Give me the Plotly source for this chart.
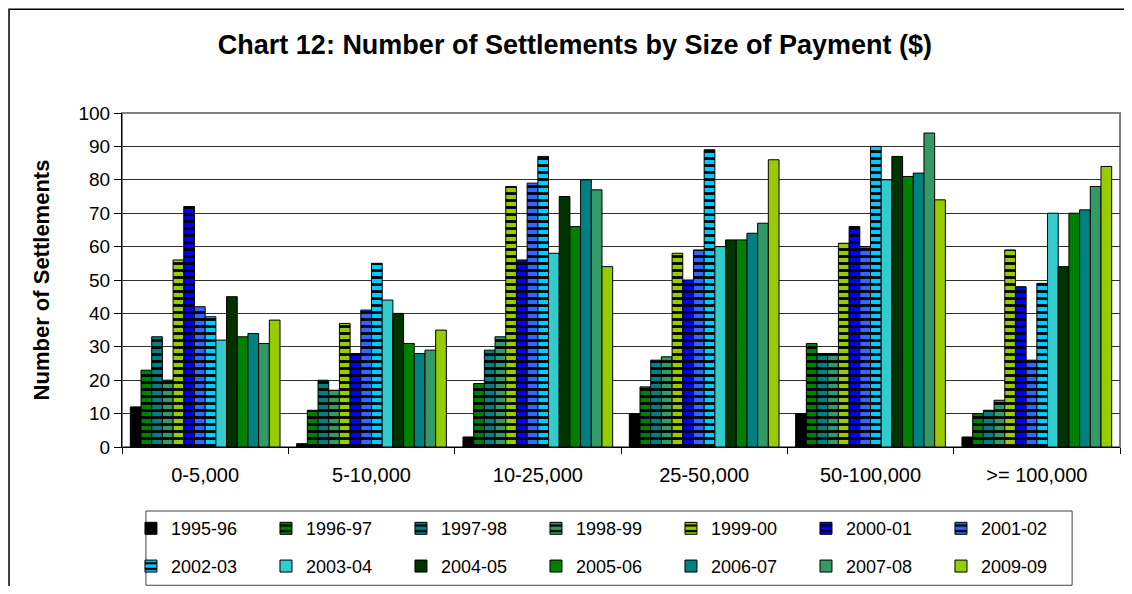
import plotly.graph_objects as go

categories = ["0-5,000", "5-10,000", "10-25,000", "25-50,000", "50-100,000", ">= 100,000"]
series_names = ["1995-96", "1996-97", "1997-98", "1998-99", "1999-00", "2000-01", "2001-02",
                "2002-03", "2003-04", "2004-05", "2005-06", "2006-07", "2007-08", "2009-09"]

v_1995_96 = [12, 1, 3, 10, 10, 3]
v_1996_97 = [23, 11, 19, 18, 31, 10]
v_1997_98 = [33, 20, 29, 26, 28, 11]
v_1998_99 = [20, 17, 33, 27, 28, 14]
v_1999_00 = [56, 37, 78, 58, 61, 59]
v_2000_01 = [72, 28, 56, 50, 66, 48]
v_2001_02 = [42, 41, 79, 59, 60, 26]
v_2002_03 = [39, 55, 87, 89, 90, 49]
v_2003_04 = [32, 44, 58, 60, 80, 70]
v_2004_05 = [45, 40, 75, 62, 87, 54]
v_2005_06 = [33, 31, 66, 62, 81, 70]
v_2006_07 = [34, 28, 80, 64, 82, 71]
v_2007_08 = [31, 29, 77, 67, 94, 78]
v_2009_09 = [38, 35, 54, 86, 74, 84]

values = [v_1995_96, v_1996_97, v_1997_98, v_1998_99, v_1999_00, v_2000_01, v_2001_02,
          v_2002_03, v_2003_04, v_2004_05, v_2005_06, v_2006_07, v_2007_08, v_2009_09]

colors = ["#000000", "#008000", "#008080", "#339966", "#99CC00", "#0000FF", "#3366FF",
          "#00CCFF", "#33CCCC", "#003300", "#008000", "#008080", "#339966", "#99CC00"]
striped = [False, True, True, True, True, True, True, True,
           False, False, False, False, False, False]

FONT = "Liberation Sans, Arial, sans-serif"

fig = go.Figure()
for i, (name, vals, col, st) in enumerate(zip(series_names, values, colors, striped)):
    marker = dict(color=col, line=dict(color="#000000", width=1))
    if st:
        marker["pattern"] = dict(shape="-", fgcolor="#000000", bgcolor=col, size=7, solidity=0.4,
                                 fillmode="replace")
    fig.add_trace(go.Bar(
        x=categories, y=vals, name=name, marker=marker,
        legend="legend" if i < 7 else "legend2",
    ))

legend_common = dict(orientation="h", xanchor="left", yanchor="top",
                     entrywidth=90, entrywidthmode="pixels",
                     font=dict(family=FONT, size=18, color="#000000"),
                     bgcolor="rgba(0,0,0,0)", borderwidth=0, itemclick=False)

fig.update_layout(
    width=1116, height=578,
    margin=dict(l=114, r=4, t=105, b=139, autoexpand=False),
    paper_bgcolor="#FFFFFF", plot_bgcolor="#FFFFFF",
    barmode="group", bargap=0.1, bargroupgap=0,
    font=dict(family=FONT, color="#000000"),
    title=dict(text="<b>Chart 12: Number of Settlements by Size of Payment ($)</b>",
               x=0.508, xref="container", xanchor="center",
               y=1 - 37 / 578, yref="container", yanchor="middle",
               font=dict(family=FONT, size=27, color="#000000")),
    legend=dict(x=0.009, y=-0.189, **legend_common),
    legend2=dict(x=0.009, y=-0.302, **legend_common),
    xaxis=dict(type="category", tickson="boundaries", ticks="outside", ticklen=6,
               tickcolor="#000000", showline=True, linecolor="#000000", linewidth=1,
               showgrid=False, ticklabelstandoff=10, automargin=False,
               tickfont=dict(family=FONT, size=20, color="#000000")),
    yaxis=dict(range=[0, 100], dtick=10, ticks="outside", ticklen=7, tickcolor="#000000",
               showline=True, linecolor="#000000", linewidth=1, automargin=False,
               showgrid=True, gridcolor="#303030", gridwidth=1, zeroline=False,
               tickfont=dict(family=FONT, size=19, color="#000000"),
               title=dict(text="<b>Number of Settlements</b>", standoff=22,
                          font=dict(family=FONT, size=22, color="#000000"))),
    shapes=[
        # plot-area frame (gray top/right)
        dict(type="rect", xref="paper", yref="paper", x0=0, y0=0, x1=1, y1=1,
             line=dict(color="#808080", width=2), layer="below"),
        # legend box
        dict(type="rect", xref="paper", yref="paper", x0=0.024, x1=0.952, y0=-0.1916, y1=-0.414,
             line=dict(color="#404040", width=1)),
        # outer chart frame: only left and top edges are visible
        dict(type="path", xref="paper", yref="paper",
             path="M -0.1132,-0.8 L -0.1132,1.311 L 1.3,1.311",
             line=dict(color="#000000", width=1.5)),
    ],
)

fig.write_html("out.html")
